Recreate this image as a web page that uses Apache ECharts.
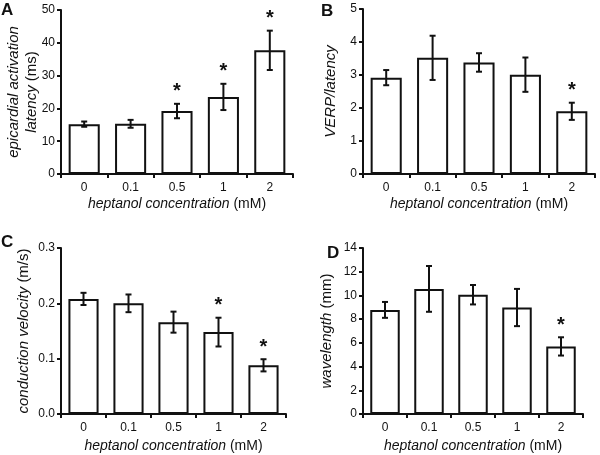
<!DOCTYPE html>
<html>
<head>
<meta charset="utf-8">
<script src="https://cdn.jsdelivr.net/npm/echarts@6/dist/echarts.min.js"></script>
<style>
  html, body { margin: 0; padding: 0; background: #fff; }
  #chart { width: 600px; height: 455px; }
</style>
</head>
<body>
<div id="chart"></div>
<script>
// heptanol concentration (mM)
const categories = ['0', '0.1', '0.5', '1', '2']

// A: epicardial activation latency (ms)
const latencyMean = [15.2, 15.3, 19.2, 23.5, 37.7]
const latencyErr = [0.8, 1.2, 2.2, 4.0, 6.0]
const latencySig = [false, false, true, true, true]

// B: VERP/latency
const verpMean = [2.92, 3.52, 3.38, 3.01, 1.90]
const verpErr = [0.23, 0.67, 0.28, 0.52, 0.26]
const verpSig = [false, false, false, false, true]

// C: conduction velocity (m/s)
const cvMean = [0.208, 0.200, 0.166, 0.148, 0.088]
const cvErr = [0.011, 0.016, 0.019, 0.026, 0.011]
const cvSig = [false, false, false, true, true]

// D: wavelength (mm)
const wlMean = [8.78, 10.55, 10.06, 8.98, 5.70]
const wlErr = [0.67, 1.93, 0.82, 1.57, 0.77]
const wlSig = [false, false, false, false, true]

const FONT = "'Liberation Sans', Arial, sans-serif"
const INK = '#111'

const chart = echarts.init(document.getElementById('chart'))

const grids = []
const xAxes = []
const yAxes = []
const series = []

// 一个面板：柱子 + 误差线 + 星号
const addPanel = (grid, yCfg, yName, yGap, xGap, mean, err, sig) => {
  const idx = grids.length
  grids.push(grid)
  xAxes.push({
    type: 'category',
    gridIndex: idx,
    data: categories,
    axisLine: { lineStyle: { color: INK, width: 2 } },
    axisTick: { show: true, length: 4, lineStyle: { color: INK, width: 2 } },
    axisLabel: { color: INK, fontSize: 12, fontFamily: FONT, margin: 8 },
    name: '{i|heptanol concentration} (mM)',
    nameLocation: 'middle',
    nameGap: xGap,
    nameMoveOverlap: false,
    nameTextStyle: {
      color: INK, fontSize: 14, fontFamily: FONT,
      rich: { i: { fontStyle: 'italic', fontSize: 14, fontFamily: FONT, color: INK } }
    }
  })
  yAxes.push(Object.assign({
    type: 'value',
    gridIndex: idx,
    min: 0,
    splitLine: { show: false },
    axisLine: { show: true, lineStyle: { color: INK, width: 2 } },
    axisTick: { show: true, length: 4, lineStyle: { color: INK, width: 2 } },
    axisLabel: { color: INK, fontSize: 12, fontFamily: FONT, margin: 6 },
    name: yName,
    nameLocation: 'middle',
    nameRotate: 90,
    nameGap: yGap,
    nameMoveOverlap: false,
    nameTextStyle: {
      color: INK, fontSize: 15, fontFamily: FONT, lineHeight: 18,
      rich: { i: { fontStyle: 'italic', fontSize: 15, fontFamily: FONT, color: INK, lineHeight: 18 } }
    }
  }, yCfg))
  series.push({
    type: 'bar',
    xAxisIndex: idx,
    yAxisIndex: idx,
    data: mean,
    barWidth: '67%',
    itemStyle: { color: '#fff', borderColor: INK, borderWidth: 2 },
    silent: true
  })
  series.push({
    type: 'custom',
    xAxisIndex: idx,
    yAxisIndex: idx,
    z: 5,
    data: mean.map((m, i) => [i, m, err[i], sig[i] ? 1 : 0]),
    renderItem: (params, api) => {
      const x = api.value(0)
      const m = api.value(1)
      const e = api.value(2)
      const top = api.coord([x, m + e])
      const bot = api.coord([x, m - e])
      const cap = 3
      const style = { stroke: INK, lineWidth: 2 }
      const children = [
        { type: 'line', shape: { x1: top[0], y1: top[1], x2: bot[0], y2: bot[1] }, style },
        { type: 'line', shape: { x1: top[0] - cap, y1: top[1], x2: top[0] + cap, y2: top[1] }, style },
        { type: 'line', shape: { x1: bot[0] - cap, y1: bot[1], x2: bot[0] + cap, y2: bot[1] }, style }
      ]
      if (api.value(3)) {
        children.push({
          type: 'text',
          style: {
            x: top[0], y: top[1] - 2, text: '*',
            align: 'center', verticalAlign: 'bottom',
            font: "bold 20px 'Liberation Sans', Arial, sans-serif", fill: INK
          }
        })
      }
      return { type: 'group', children }
    }
  })
}

addPanel({ left: 61, top: 10, width: 232, height: 164 },
  { max: 50, interval: 10 },
  '{i|epicardial activation}\n{i|latency} (ms)', 20, 23,
  latencyMean, latencyErr, latencySig)

addPanel({ left: 363, top: 9, width: 232, height: 165 },
  { max: 5, interval: 1 },
  '{i|VERP/latency}', 23, 23,
  verpMean, verpErr, verpSig)

addPanel({ left: 61, top: 248, width: 225, height: 166 },
  { max: 0.3, interval: 0.1, axisLabel: { color: INK, fontSize: 12, fontFamily: FONT, margin: 6, formatter: v => v.toFixed(1) } },
  '{i|conduction velocity} (m/s)', 28, 25,
  cvMean, cvErr, cvSig)

addPanel({ left: 363, top: 248, width: 220, height: 166 },
  { max: 14, interval: 2 },
  '{i|wavelength} (mm)', 27, 25,
  wlMean, wlErr, wlSig)

const letter = (text, left, top) => ({
  type: 'text', left, top,
  style: { text, font: "bold 17px 'Liberation Sans', Arial, sans-serif", fill: INK }
})

chart.setOption({
  animation: false,
  backgroundColor: '#fff',
  grid: grids,
  xAxis: xAxes,
  yAxis: yAxes,
  series,
  graphic: [
    letter('A', 1, 2),
    letter('B', 321, 3),
    letter('C', 1, 234),
    letter('D', 327, 245)
  ]
})
</script>
</body>
</html>
